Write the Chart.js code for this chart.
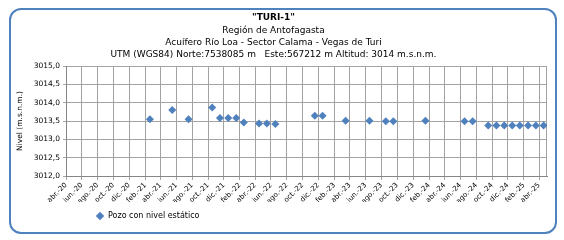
<!DOCTYPE html>
<html><head><meta charset="utf-8">
<script src="https://cdn.jsdelivr.net/npm/chart.js@4.4.1/dist/chart.umd.min.js"></script>
<style>
html,body{margin:0;padding:0;background:#fff;}
#wrap{position:relative;width:564px;height:240px;overflow:hidden;}
#frame{position:absolute;left:9px;top:8px;width:548px;height:226px;box-sizing:border-box;border:2px solid #4F81BD;border-radius:12px;}
canvas{position:absolute;left:0;top:0;}
</style></head>
<body><div id="wrap"><div id="frame"></div><canvas id="c" width="564" height="240"></canvas></div>
<script>
const titleText = '"TURI-1"';
const subtitleLines = [
  'Región de Antofagasta',
  'Acuífero Río Loa - Sector Calama - Vegas de Turi',
  'UTM (WGS84) Norte:7538085 m   Este:567212 m Altitud: 3014 m.s.n.m.'
];
const seriesName = 'Pozo con nivel estático';
const yAxisTitle = 'Nivel (m.s.n.m.)';

const measureDates = ['2021-02-19','2021-05-16','2021-07-18','2021-10-17','2021-11-16','2021-12-18',
  '2022-01-18','2022-02-16','2022-04-16','2022-05-16','2022-06-18','2022-11-17','2022-12-17',
  '2023-03-16','2023-06-16','2023-08-18','2023-09-16','2024-01-18','2024-06-17','2024-07-18',
  '2024-09-16','2024-10-18','2024-11-17','2024-12-18','2025-01-16','2025-02-17','2025-03-19','2025-04-18'];
const levels = [3013.55,3013.80,3013.55,3013.87,3013.58,3013.58,
  3013.58,3013.46,3013.43,3013.43,3013.42,3013.64,3013.64,
  3013.51,3013.51,3013.49,3013.49,3013.51,3013.49,3013.49,
  3013.38,3013.38,3013.38,3013.38,3013.38,3013.38,3013.38,3013.38];

const tickLabels = ['abr.-20','jun.-20','ago.-20','oct.-20','dic.-20','feb.-21','abr.-21','jun.-21','ago.-21','oct.-21','dic.-21',
  'feb.-22','abr.-22','jun.-22','ago.-22','oct.-22','dic.-22','feb.-23','abr.-23','jun.-23','ago.-23','oct.-23','dic.-23',
  'feb.-24','abr.-24','jun.-24','ago.-24','oct.-24','dic.-24','feb.-25','abr.-25'];
const xMinDate = '2020-04-01';
const xMaxDate = '2025-05-01';
const yMin = 3012, yMax = 3015, yStep = 0.5;

const monthIdx = {ene:0,feb:1,mar:2,abr:3,may:4,jun:5,jul:6,ago:7,sep:8,oct:9,nov:10,dic:11};
const dayNum = s => Date.parse(s + 'T00:00:00Z') / 86400000;
const labelDay = l => { const [m, y] = l.split('.-'); return Date.UTC(2000 + Number(y), monthIdx[m], 1) / 86400000; };
const tickValues = tickLabels.map(labelDay);
const points = measureDates.map((d, i) => ({x: dayNum(d), y: levels[i]}));

const FONT = "Verdana, 'DejaVu Sans', sans-serif";
const gridColor = '#A3A3A3';
const axisColor = '#868686';

const framePlugin = {
  id: 'plotFrame',
  afterLayout(chart) { if (chart.legend) { chart.legend.left += 86; } },
  beforeDatasetsDraw(chart) {
    const a = chart.chartArea, ctx = chart.ctx;
    ctx.save();
    ctx.strokeStyle = gridColor; ctx.lineWidth = 1;
    ctx.beginPath();
    ctx.moveTo(Math.round(a.right) - 0.5, a.top); ctx.lineTo(Math.round(a.right) - 0.5, a.bottom);
    ctx.stroke();
    ctx.restore();
  }
};

new Chart(document.getElementById('c'), {
  type: 'scatter',
  data: { datasets: [{
    label: seriesName,
    data: points,
    pointStyle: 'rectRot',
    pointRadius: 4,
    pointHoverRadius: 4,
    pointBorderWidth: 0,
    backgroundColor: '#4F81BD',
    borderColor: '#4F81BD'
  }]},
  options: {
    responsive: false,
    animation: false,
    devicePixelRatio: 1,
    layout: { padding: { left: 0, right: 17, top: 0, bottom: 10 } },
    plugins: {
      title: { display: true, text: titleText, color: '#000',
        font: { family: FONT, size: 9, weight: 'bold', lineHeight: 1.2 }, padding: { top: 12.6, bottom: 1 } },
      subtitle: { display: true, text: subtitleLines, color: '#000',
        font: { family: FONT, size: 9, lineHeight: '12px' }, padding: { top: 0.4, bottom: 5.2 } },
      legend: { display: true, position: 'bottom', align: 'start',
        labels: { usePointStyle: true, pointStyle: 'rectRot', boxHeight: 6, color: '#000',
          font: { family: FONT, size: 8 }, padding: 10 } },
      tooltip: { enabled: false }
    },
    scales: {
      x: {
        type: 'linear', min: dayNum(xMinDate), max: dayNum(xMaxDate),
        afterBuildTicks: s => { s.ticks = tickValues.map(v => ({ value: v })); },
        afterFit: s => { s.height = 26; },
        ticks: { autoSkip: false, minRotation: 45, maxRotation: 45, padding: 1, color: '#000',
          font: { family: FONT, size: 7 }, callback: (v, i) => tickLabels[i] },
        grid: { color: gridColor, tickLength: 4, drawTicks: true },
        border: { color: axisColor }
      },
      y: {
        min: yMin, max: yMax,
        afterFit: s => { s.width = 66; },
        ticks: { stepSize: yStep, padding: 3, color: '#000', font: { family: FONT, size: 7.5 },
          callback: v => v.toFixed(1).replace('.', ',') },
        grid: { color: gridColor, tickLength: 3, drawTicks: true },
        border: { color: axisColor },
        title: { display: true, text: yAxisTitle, color: '#000',
          font: { family: FONT, size: 7.5, lineHeight: 1.2 }, padding: { top: 15.5, bottom: 0 } }
      }
    }
  },
  plugins: [framePlugin]
});
</script>
</body></html>
